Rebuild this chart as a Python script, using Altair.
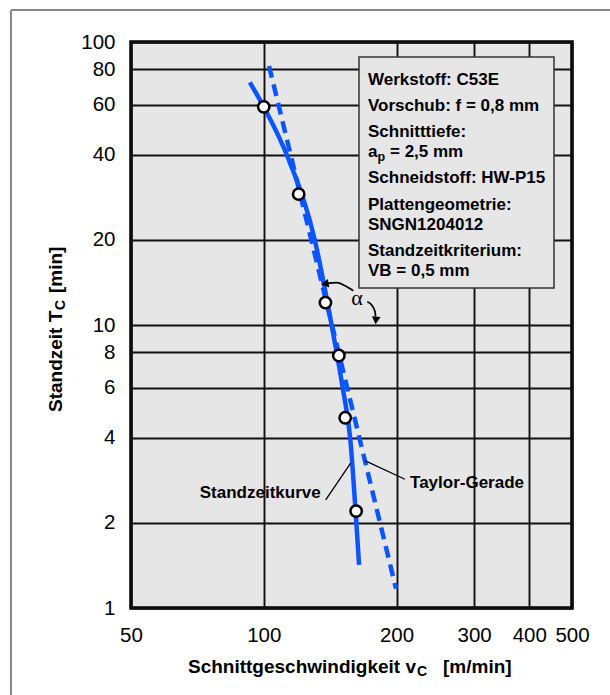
import altair as alt
import pandas as pd

# ---------------- data ----------------
curve_vc = [93, 100, 113.5, 130.5, 142.5, 151, 157, 162, 164.5]
curve_T = [72, 59, 39, 20, 10, 6, 4, 2.05, 1.42]
meas_vc = [100, 120, 138, 148, 153, 162]
meas_T = [59, 29, 12, 7.8, 4.7, 2.2]
taylor_vc = [102.8, 199.5]
taylor_T = [82.3, 1.17]
x_ticks = [50, 100, 200, 300, 400, 500]
y_ticks = [1, 2, 4, 6, 8, 10, 20, 40, 60, 80, 100]
box_lines = ["Werkstoff: C53E", "Vorschub: f = 0,8 mm", "Schnitttiefe:", "",
             "Schneidstoff: HW-P15", "Plattengeometrie:", "SNGN1204012",
             "Standzeitkriterium:", "VB = 0,5 mm"]
label_curve = "Standzeitkurve"
label_taylor = "Taylor-Gerade"

# ---------------- layout / style ----------------
W, H = 441, 566
PL, PT = 131, 42
FN = "'Liberation Sans', Arial, sans-serif"
BLUE = "#0a55ff"
one = pd.DataFrame({"k": [0]})

xs = alt.Scale(type="log", domain=[50, 500], nice=False)
ys = alt.Scale(type="log", domain=[1, 100], nice=False)
xaxis = alt.Axis(values=x_ticks, format="d", title=None, grid=True, gridColor="#111",
                 gridWidth=1.9, ticks=False, domain=False, labelFont=FN, labelFontSize=20.5,
                 labelColor="black", labelPadding=17, labelFlush=False, labelOverlap=False,
                 labelBound=False)
yaxis = alt.Axis(values=y_ticks, format="d", title=None, grid=True, gridColor="#111",
                 gridWidth=1.9, ticks=False, domain=False, labelFont=FN, labelFontSize=20.5,
                 labelColor="black", labelPadding=16, labelFlush=False, labelOverlap=False,
                 labelBound=False)


def X(f="vc"):
    return alt.X(f"{f}:Q", scale=xs, axis=xaxis)


def Y(f="T"):
    return alt.Y(f"{f}:Q", scale=ys, axis=yaxis)


taylor = alt.Chart(pd.DataFrame({"vc": taylor_vc, "T": taylor_T})).mark_line(
    color=BLUE, strokeWidth=4.5, strokeDash=[12, 7]).encode(x=X(), y=Y())

curve = alt.Chart(pd.DataFrame({"vc": curve_vc, "T": curve_T})).mark_line(
    color=BLUE, strokeWidth=4.5, interpolate="monotone").encode(x=X(), y=Y())

points = alt.Chart(pd.DataFrame({"vc": meas_vc, "T": meas_T})).mark_point(
    shape="circle", filled=True, fill="white", stroke="black", strokeWidth=2.5,
    size=130, opacity=1).encode(x=X(), y=Y())

# ---------------- info box ----------------
BF = 17
box = alt.Chart(one).mark_rect(fill="#e6e6e6", stroke="#333", strokeWidth=1.5).encode(
    x=alt.value(228), x2=alt.value(423), y=alt.value(15), y2=alt.value(246))

ys_box = []
yy = 37.5
groups = [1, 1, 2, 1, 2, 2]
for g in groups:
    for i in range(g):
        ys_box.append(yy + i * 20.3)
    yy += (g - 1) * 20.3 + 26.2
box_df = pd.DataFrame({"t": box_lines, "py": ys_box})
box_text = alt.Chart(box_df).mark_text(
    font=FN, fontSize=BF, fontWeight="bold", align="left", baseline="middle",
    color="black").encode(x=alt.value(237), y=alt.Y("py:Q", scale=None, axis=None),
                          text="t:N")

ap_y = ys_box[3]
ap_a = alt.Chart(one).mark_text(font=FN, fontSize=BF, fontWeight="bold", align="left",
                                baseline="middle", text="a").encode(
    x=alt.value(237), y=alt.value(ap_y))
ap_p = alt.Chart(one).mark_text(font=FN, fontSize=12.5, fontWeight="bold", align="left",
                                baseline="middle", text="p").encode(
    x=alt.value(246.5), y=alt.value(ap_y + 5))
ap_rest = alt.Chart(one).mark_text(font=FN, fontSize=BF, fontWeight="bold", align="left",
                                   baseline="middle", text="= 2,5 mm").encode(
    x=alt.value(259), y=alt.value(ap_y))

# ---------------- angle annotation ----------------
arc1 = alt.Chart(pd.DataFrame({"vc": [139.0, 146.4, 152.8, 159.6],
                               "T": [14.04, 14.11, 13.77, 13.22]})).mark_line(
    color="black", strokeWidth=1.7, interpolate="monotone").encode(x=X(), y=Y())
arc2 = alt.Chart(pd.DataFrame({"vc": [171.7, 175.7, 178.8, 179.3],
                               "T": [12.09, 11.77, 11.14, 10.7]})).mark_line(
    color="black", strokeWidth=1.7, interpolate="monotone").encode(x=X(), y=Y())
head1 = alt.Chart(pd.DataFrame({"vc": [137.6], "T": [13.98]})).mark_point(
    shape="triangle-left", filled=True, color="black", size=75, angle=350,
    opacity=1).encode(x=X(), y=Y())
head2 = alt.Chart(pd.DataFrame({"vc": [179.6], "T": [10.38]})).mark_point(
    shape="triangle-down", filled=True, color="black", size=75, angle=5,
    opacity=1).encode(x=X(), y=Y())
alpha = alt.Chart(pd.DataFrame({"vc": [162.7], "T": [12.45]})).mark_text(
    font="'Liberation Serif', serif", fontSize=22, text="α", baseline="middle",
    align="center").encode(x=X(), y=Y())

# ---------------- leader lines and labels ----------------
lead1 = alt.Chart(pd.DataFrame({"vc": [138.2, 157.4], "T": [2.41, 3.25]})).mark_line(
    color="black", strokeWidth=1.3).encode(x=X(), y=Y())
lead2 = alt.Chart(pd.DataFrame({"vc": [169.6, 209.0], "T": [3.315, 2.85]})).mark_line(
    color="black", strokeWidth=1.3).encode(x=X(), y=Y())
lab1 = alt.Chart(pd.DataFrame({"vc": [134.6], "T": [2.543], "t": [label_curve]})).mark_text(
    font=FN, fontSize=17, fontWeight="bold", align="right", baseline="middle").encode(
    x=X(), y=Y(), text="t:N")
lab2 = alt.Chart(pd.DataFrame({"vc": [214.6], "T": [2.772], "t": [label_taylor]})).mark_text(
    font=FN, fontSize=17, fontWeight="bold", align="left", baseline="middle").encode(
    x=X(), y=Y(), text="t:N")

# ---------------- outer frame ----------------
frame_top = alt.Chart(one).mark_rule(color="#888", strokeWidth=2).encode(
    x=alt.value(-120), x2=alt.value(600), y=alt.value(-32))
frame_left = alt.Chart(one).mark_rule(color="#888", strokeWidth=2).encode(
    x=alt.value(-120), y=alt.value(-32), y2=alt.value(700))

# ---------------- axis titles (with subscripts) ----------------
TS = 19
XO = 6
xt1 = alt.Chart(one).mark_text(font=FN, fontSize=TS, fontWeight="bold", align="right",
                               baseline="middle", text="Schnittgeschwindigkeit v").encode(
    x=alt.value(279 + XO), y=alt.value(625))
xt2 = alt.Chart(one).mark_text(font=FN, fontSize=14, fontWeight="bold", align="left",
                               baseline="middle", text="C").encode(
    x=alt.value(280 + XO), y=alt.value(630))
xt3 = alt.Chart(one).mark_text(font=FN, fontSize=TS, fontWeight="bold", align="left",
                               baseline="middle", text="[m/min]").encode(
    x=alt.value(306 + XO), y=alt.value(625))

yt1 = alt.Chart(one).mark_text(font=FN, fontSize=TS, fontWeight="bold", align="left",
                               baseline="middle", angle=270, text="Standzeit T").encode(
    x=alt.value(-75), y=alt.value(370))
yt2 = alt.Chart(one).mark_text(font=FN, fontSize=14, fontWeight="bold", align="left",
                               baseline="middle", angle=270, text="C").encode(
    x=alt.value(-70), y=alt.value(268))
yt3 = alt.Chart(one).mark_text(font=FN, fontSize=TS, fontWeight="bold", align="left",
                               baseline="middle", angle=270, text="[min]").encode(
    x=alt.value(-75), y=alt.value(251))

chart = alt.layer(
    taylor, curve, points, box, box_text, ap_a, ap_p, ap_rest,
    arc1, arc2, head1, head2, alpha, lead1, lead2, lab1, lab2,
    frame_top, frame_left, xt1, xt2, xt3, yt1, yt2, yt3
).properties(
    width=W, height=H,
    autosize=alt.AutoSizeParams(type="none"),
    padding={"left": PL, "top": PT, "right": 610 - PL - W, "bottom": 695 - PT - H},
    background="white",
).configure_view(fill="#e6e6e6", stroke="black", strokeWidth=3.5)

chart.save("out.html", embed_options={"renderer": "svg", "actions": False})
